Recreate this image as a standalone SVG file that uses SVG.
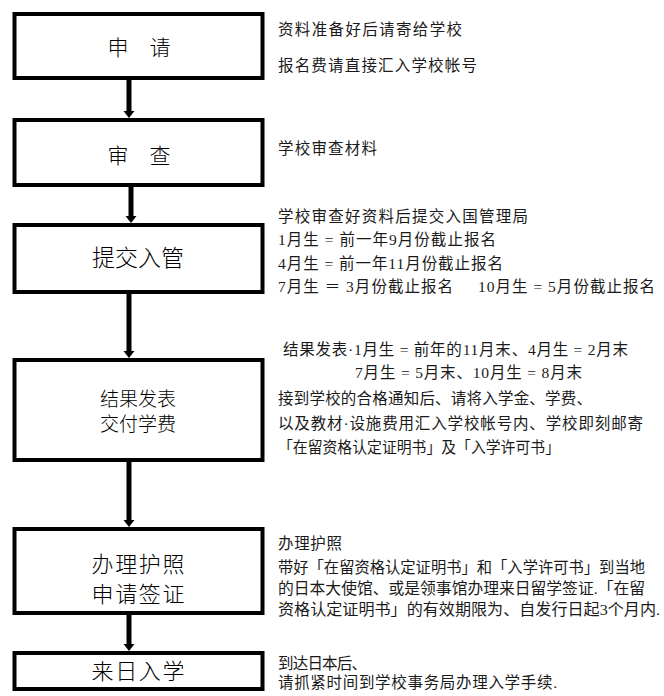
<svg xmlns="http://www.w3.org/2000/svg" width="664" height="696" viewBox="0 0 664 696">
<style>
.box{fill:#fff;stroke:#000;stroke-width:4}
.lbl{font-family:"Noto Sans CJK SC","Noto Sans CJK JP",sans-serif;font-weight:300;fill:#000;text-anchor:middle}
.note{font-family:"Liberation Serif","Noto Sans CJK SC",serif;font-size:15.5px;fill:#1a1a1a;white-space:pre}
.conn{stroke:#000;stroke-width:5;fill:none}
</style>
<defs>
<marker id="ah" markerUnits="userSpaceOnUse" markerWidth="12" markerHeight="12" refX="0" refY="0" orient="auto" viewBox="0 -6 8 12" overflow="visible">
<path d="M0,-5.5 L7,0 L0,5.5 z" fill="#000"/>
</marker>
</defs>
<rect width="664" height="696" fill="#fff"/>
<g id="connectors">
<line class="conn" x1="129" y1="80" x2="129" y2="111" marker-end="url(#ah)"/>
<line class="conn" x1="131" y1="187" x2="131" y2="216" marker-end="url(#ah)"/>
<line class="conn" x1="129" y1="294" x2="129" y2="351" marker-end="url(#ah)"/>
<line class="conn" x1="129" y1="462" x2="129" y2="520" marker-end="url(#ah)"/>
<line class="conn" x1="129" y1="615" x2="129" y2="644" marker-end="url(#ah)"/>
</g>
<g id="n1">
<rect class="box" x="14.5" y="14" width="248" height="64"/>
<text class="lbl" x="139" y="55" font-size="21">申　请</text>
</g>
<g id="n2">
<rect class="box" x="14.5" y="120" width="248" height="65"/>
<text class="lbl" x="139" y="163" font-size="21">审　查</text>
</g>
<g id="n3">
<rect class="box" x="14.5" y="225" width="248" height="67"/>
<text class="lbl" x="138" y="266" font-size="23">提交入管</text>
</g>
<g id="n4">
<rect class="box" x="14.5" y="360" width="248" height="100"/>
<text class="lbl" x="138" y="406" font-size="19">结果发表</text>
<text class="lbl" x="138" y="431" font-size="19">交付学费</text>
</g>
<g id="n5">
<rect class="box" x="14.5" y="529" width="248" height="84"/>
<text class="lbl" x="138" y="572" font-size="22" textLength="93" lengthAdjust="spacing">办理护照</text>
<text class="lbl" x="138" y="602" font-size="22" textLength="93" lengthAdjust="spacing">申请签证</text>
</g>
<g id="n6">
<rect class="box" x="14.5" y="653" width="248" height="36"/>
<text class="lbl" x="138" y="679" font-size="22" textLength="93" lengthAdjust="spacing">来日入学</text>
</g>
<g id="notes">
<text class="note" x="278" y="35" textLength="184" lengthAdjust="spacing">资料准备好后请寄给学校</text>
<text class="note" x="278" y="71" textLength="199" lengthAdjust="spacing">报名费请直接汇入学校帐号</text>
<text class="note" x="278" y="154" textLength="99" lengthAdjust="spacing">学校审查材料</text>
<text class="note" x="278" y="222" textLength="250" lengthAdjust="spacing">学校审查好资料后提交入国管理局</text>
<text class="note" x="278" y="245" textLength="218" lengthAdjust="spacing">1月生 = 前一年9月份截止报名</text>
<text class="note" x="278" y="269" textLength="225" lengthAdjust="spacing">4月生 = 前一年11月份截止报名</text>
<text class="note" x="278" y="292" textLength="175" lengthAdjust="spacing">7月生 ＝ 3月份截止报名</text>
<text class="note" x="478" y="292" textLength="177" lengthAdjust="spacing">10月生 = 5月份截止报名</text>
<text class="note" x="283" y="355" textLength="345" lengthAdjust="spacing">结果发表·1月生 = 前年的11月末、4月生 = 2月末</text>
<text class="note" x="355" y="378" textLength="227" lengthAdjust="spacing">7月生 = 5月末、10月生 = 8月末</text>
<text class="note" x="278" y="404" textLength="314" lengthAdjust="spacing">接到学校的合格通知后、请将入学金、学费、</text>
<text class="note" x="278" y="429" textLength="365" lengthAdjust="spacing">以及教材·设施费用汇入学校帐号内、学校即刻邮寄</text>
<text class="note" x="278" y="453" textLength="282" lengthAdjust="spacingAndGlyphs">「在留资格认定证明书」及「入学许可书」</text>
<text class="note" x="278" y="549" textLength="64" lengthAdjust="spacing">办理护照</text>
<text class="note" x="278" y="573" textLength="367" lengthAdjust="spacingAndGlyphs">带好「在留资格认定证明书」和「入学许可书」到当地</text>
<text class="note" x="278" y="594" textLength="367" lengthAdjust="spacingAndGlyphs">的日本大使馆、或是领事馆办理来日留学签证.「在留</text>
<text class="note" x="278" y="615" textLength="382" lengthAdjust="spacingAndGlyphs">资格认定证明书」的有效期限为、自发行日起3个月内.</text>
<text class="note" x="278" y="669" textLength="89" lengthAdjust="spacing">到达日本后、</text>
<text class="note" x="278" y="688" textLength="279" lengthAdjust="spacing">请抓紧时间到学校事务局办理入学手续.</text>
</g>
</svg>
